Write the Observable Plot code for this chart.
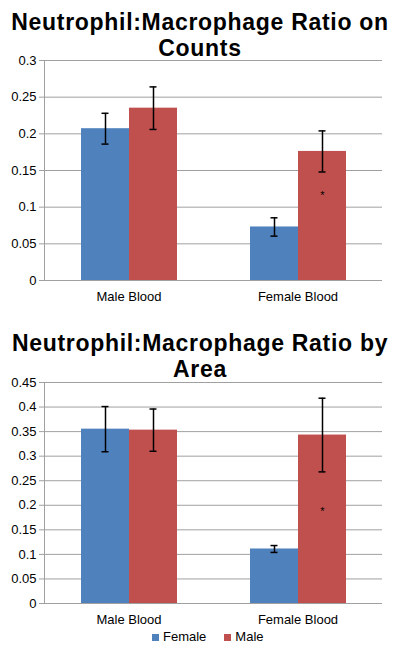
<!DOCTYPE html>
<html>
<head>
<meta charset="utf-8">
<script src="https://cdn.jsdelivr.net/npm/d3@7"></script>
<script src="https://cdn.jsdelivr.net/npm/@observablehq/plot@0.6"></script>
<style>
  html, body { margin: 0; padding: 0; background: #fff; }
  body { width: 400px; height: 652px; position: relative; overflow: hidden;
         font-family: "Liberation Sans", Arial, Helvetica, sans-serif; }
  .title { position: absolute; left: 0; width: 400px; text-align: center;
           font-size: 23px; letter-spacing: 0.7px; font-weight: bold;
           line-height: 26px; height: 26px; color: #000; }
  .chart { position: absolute; left: 0; }
  .legend { position: absolute; top: 629px; left: 152px; height: 16px; line-height: 16px;
            font-size: 13px; display: flex; align-items: center; color: #000; }
  .sw { display: inline-block; width: 7px; height: 7px; margin-right: 4px; }
</style>
</head>
<body>
<div class="title" id="t1a" style="top:9px"></div>
<div class="title" id="t1b" style="top:35px"></div>
<div class="chart" id="c1" style="top:48px"></div>
<div class="title" id="t2a" style="top:330px"></div>
<div class="title" id="t2b" style="top:356px"></div>
<div class="chart" id="c2" style="top:370px"></div>
<div class="legend" id="legend"></div>
<script>
// ---- data ----
const categories = ["Male Blood", "Female Blood"];
const series = ["Female", "Male"];
const colors = ["#4F81BD", "#C0504D"];

const title1 = ["Neutrophil:Macrophage Ratio on", "Counts"];
const countsFemale = [0.207, 0.073];
const countsMale = [0.235, 0.176];
const countsFemaleErr = [0.021, 0.0125];
const countsMaleErr = [0.029, 0.028];
const countsTicks = [0, 0.05, 0.1, 0.15, 0.2, 0.25, 0.3];
const countsStar = [{cat: "Female Blood", sex: "Male", y: 0.116}];

const title2 = ["Neutrophil:Macrophage Ratio by", "Area"];
const areaFemale = [0.355, 0.111];
const areaMale = [0.353, 0.343];
const areaFemaleErr = [0.046, 0.007];
const areaMaleErr = [0.043, 0.075];
const areaTicks = [0, 0.05, 0.1, 0.15, 0.2, 0.25, 0.3, 0.35, 0.4, 0.45];
const areaStar = [{cat: "Female Blood", sex: "Male", y: 0.188}];

function rows(fem, mal, femErr, malErr) {
  const out = [];
  categories.forEach((c, i) => {
    out.push({cat: c, sex: "Female", value: fem[i], err: femErr[i]});
    out.push({cat: c, sex: "Male", value: mal[i], err: malErr[i]});
  });
  return out;
}

function chart(data, ticks, stars, height, marginBottom) {
  const font = "Liberation Sans, Arial, sans-serif";
  return Plot.plot({
    width: 400,
    height,
    marginLeft: 44,
    marginRight: 18,
    marginTop: 12,
    marginBottom,
    style: {fontFamily: font, fontSize: "13px", color: "#000", background: "transparent"},
    fx: {domain: categories, padding: 0, label: null, tickSize: 0, tickPadding: 11, fontSize: 13},
    x: {domain: series, paddingInner: 0, paddingOuter: 0.76, axis: null},
    y: {domain: [0, ticks[ticks.length - 1]], axis: null},
    color: {domain: series, range: colors},
    marks: [
      Plot.gridY(ticks, {stroke: "#a0a0a0", strokeOpacity: 1}),
      Plot.frame({anchor: "left", facetAnchor: "left", stroke: "#a0a0a0"}),
      Plot.axisY(ticks, {tickFormat: d => String(d), tickSize: 5, tickPadding: 3,
                         stroke: "#a0a0a0", fill: "#000", fontSize: 13, label: null}),
      Plot.barY(data, {fx: "cat", x: "sex", y: "value", fill: "sex"}),
      Plot.ruleX(data, {fx: "cat", x: "sex", y1: d => d.value - d.err, y2: d => d.value + d.err,
                        stroke: "#000", strokeWidth: 1.5}),
      Plot.tickY(data, {fx: "cat", x: "sex", y: d => d.value - d.err, stroke: "#000",
                        strokeWidth: 1.5, insetLeft: 20.5, insetRight: 20.5}),
      Plot.tickY(data, {fx: "cat", x: "sex", y: d => d.value + d.err, stroke: "#000",
                        strokeWidth: 1.5, insetLeft: 20.5, insetRight: 20.5}),
      Plot.text(stars, {fx: "cat", x: "sex", y: "y", text: () => "*", fontSize: 11, fill: "#000"})
    ]
  });
}

document.getElementById("t1a").textContent = title1[0];
document.getElementById("t1b").textContent = title1[1];
document.getElementById("t2a").textContent = title2[0];
document.getElementById("t2b").textContent = title2[1];

document.getElementById("c1").append(
  chart(rows(countsFemale, countsMale, countsFemaleErr, countsMaleErr), countsTicks, countsStar, 262, 30));
document.getElementById("c2").append(
  chart(rows(areaFemale, areaMale, areaFemaleErr, areaMaleErr), areaTicks, areaStar, 259, 26));

const legend = document.getElementById("legend");
series.forEach((s, i) => {
  const item = document.createElement("span");
  item.style.display = "inline-flex";
  item.style.alignItems = "center";
  item.style.marginRight = i === 0 ? "18px" : "0";
  const sw = document.createElement("span");
  sw.className = "sw";
  sw.style.background = colors[i];
  item.append(sw, document.createTextNode(s));
  legend.append(item);
});
</script>
</body>
</html>
